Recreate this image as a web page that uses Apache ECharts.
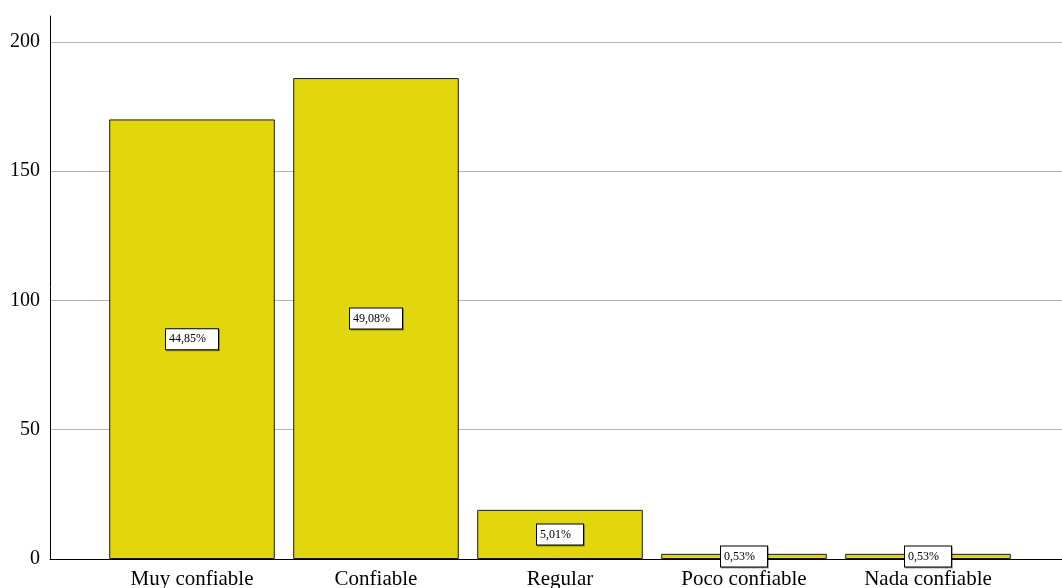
<!DOCTYPE html>
<html>
<head>
<meta charset="utf-8">
<script src="https://cdn.jsdelivr.net/npm/echarts@6/dist/echarts.min.js"></script>
<style>
  html, body { margin: 0; padding: 0; background: #fff; }
  #chart { width: 1062px; height: 588px; }
</style>
</head>
<body>
<div id="chart"></div>
<script>
// Response counts per rating category
const categories = ['Muy confiable', 'Confiable', 'Regular', 'Poco confiable', 'Nada confiable'];
const counts = [170, 186, 19, 2, 2];
const yTicks = { min: 0, max: 210, interval: 50 };

const total = counts.reduce((a, b) => a + b, 0);
const pctLabel = v => (v / total * 100).toFixed(2).replace('.', ',') + '%';

const serif = '"Liberation Serif", "DejaVu Serif", serif';

const chart = echarts.init(document.getElementById('chart'));
chart.setOption({
  animation: false,
  backgroundColor: '#ffffff',
  grid: [
    // frame grid: axis lines, value ticks and gridlines across the full width
    { left: 50, right: 0, top: 16, bottom: 29, containLabel: false, outerBoundsMode: 'none' },
    // bar grid: the category bands
    { left: 100, width: 920, top: 16, bottom: 29, containLabel: false, outerBoundsMode: 'none' }
  ],
  xAxis: [
    {
      gridIndex: 0, type: 'value', min: 0, max: 1,
      axisLine: { show: true, lineStyle: { color: '#000', width: 1 } },
      axisTick: { show: false }, axisLabel: { show: false }, splitLine: { show: false }
    },
    {
      gridIndex: 1, type: 'category', data: categories, boundaryGap: true,
      axisLine: { show: false }, axisTick: { show: false },
      axisLabel: { color: '#000', fontFamily: serif, fontSize: 21, margin: 10, interval: 0 },
      splitLine: { show: false }
    }
  ],
  yAxis: [
    {
      gridIndex: 0, type: 'value', min: yTicks.min, max: yTicks.max, interval: yTicks.interval,
      axisLine: { show: true, lineStyle: { color: '#000', width: 1 } },
      axisTick: { show: false },
      axisLabel: { color: '#000', fontFamily: serif, fontSize: 20, margin: 10, showMaxLabel: false, padding: [4, 0, 0, 0] },
      splitLine: { show: true, showMaxLine: false, showMinLine: false, lineStyle: { color: '#b4b4b4', width: 1 } }
    },
    {
      gridIndex: 1, type: 'value', min: yTicks.min, max: yTicks.max, interval: yTicks.interval,
      show: false, splitLine: { show: false }
    }
  ],
  series: [
    {
      type: 'bar',
      xAxisIndex: 1, yAxisIndex: 1,
      data: counts,
      barCategoryGap: '10%',
      itemStyle: { color: '#e2d70c', borderColor: '#1a1a1a', borderWidth: 1 },
      label: {
        show: true,
        position: 'inside',
        formatter: p => pctLabel(p.value),
        color: '#000',
        fontFamily: serif,
        fontSize: 12,
        lineHeight: 14,
        backgroundColor: '#fff',
        borderColor: '#000',
        borderWidth: 1,
        padding: [3, 12, 3, 3],
        shadowColor: 'rgba(0,0,0,0.35)',
        shadowOffsetX: 1,
        shadowOffsetY: 1,
        shadowBlur: 0
      }
    }
  ]
});
</script>
</body>
</html>
